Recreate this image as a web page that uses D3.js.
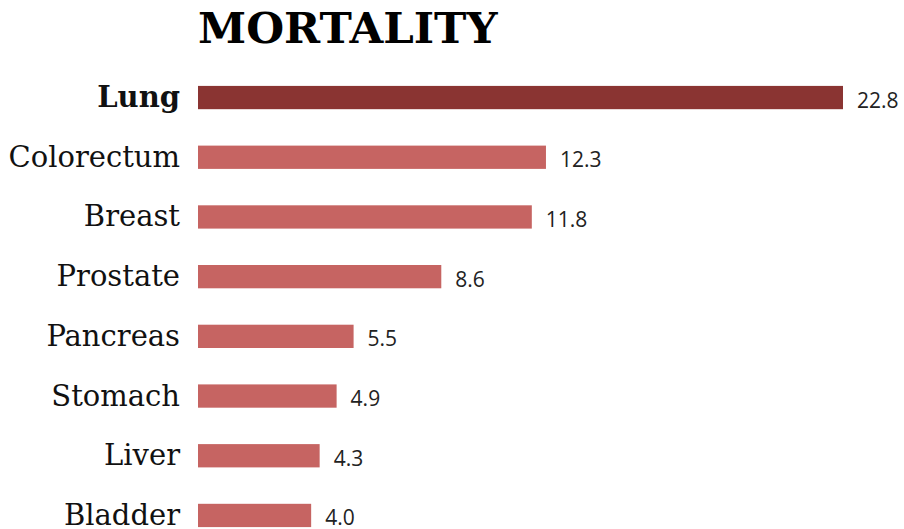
<!DOCTYPE html>
<html><head><meta charset="utf-8">
<script src="https://cdn.jsdelivr.net/npm/d3@7"></script>
<style>body{margin:0;background:#fff}</style>
</head><body>
<script>
const categories = ["Lung","Colorectum","Breast","Prostate","Pancreas","Stomach","Liver","Bladder"];
const values = [22.8,12.3,11.8,8.6,5.5,4.9,4.3,4.0];
const valueLabels = ["22.8","12.3","11.8","8.6","5.5","4.9","4.3","4.0"];
const highlight = "Lung";
const title = "MORTALITY";

const W=904,H=529;
const svg=d3.select("body").append("svg").attr("width",W).attr("height",H);
const x=d3.scaleLinear().domain([0,22.8]).range([198,843]);
const y=d3.scaleBand().domain(categories).range([68,545]).paddingInner(0.61).paddingOuter(0.3);

svg.append("text").attr("x",198).attr("y",43).text(title)
  .attr("font-family","DejaVu Serif").attr("font-weight","bold").attr("font-size",43.5).attr("fill","#000");

const data=categories.map((c,i)=>({c,v:values[i],l:valueLabels[i]}));
svg.selectAll("rect.bar").data(data).join("rect").attr("class","bar")
  .attr("x",x(0)).attr("y",d=>y(d.c)).attr("width",d=>x(d.v)-x(0)).attr("height",y.bandwidth())
  .attr("fill",d=>d.c===highlight?"#8A3432":"#C66462");
svg.selectAll("text.cat").data(data).join("text").attr("class","cat")
  .attr("x",180).attr("y",d=>y(d.c)+y.bandwidth()/2+9.5).attr("text-anchor","end")
  .attr("font-family","DejaVu Serif").attr("font-size",29)
  .attr("font-weight",d=>d.c===highlight?"bold":"normal").attr("fill","#111").text(d=>d.c);
svg.selectAll("text.val").data(data).join("text").attr("class","val")
  .attr("x",d=>x(d.v)+14).attr("y",d=>y(d.c)+y.bandwidth()/2+10).attr("font-family","Open Sans")
  .attr("font-size",21).attr("fill","#222").text(d=>d.l);
</script>
</body></html>
